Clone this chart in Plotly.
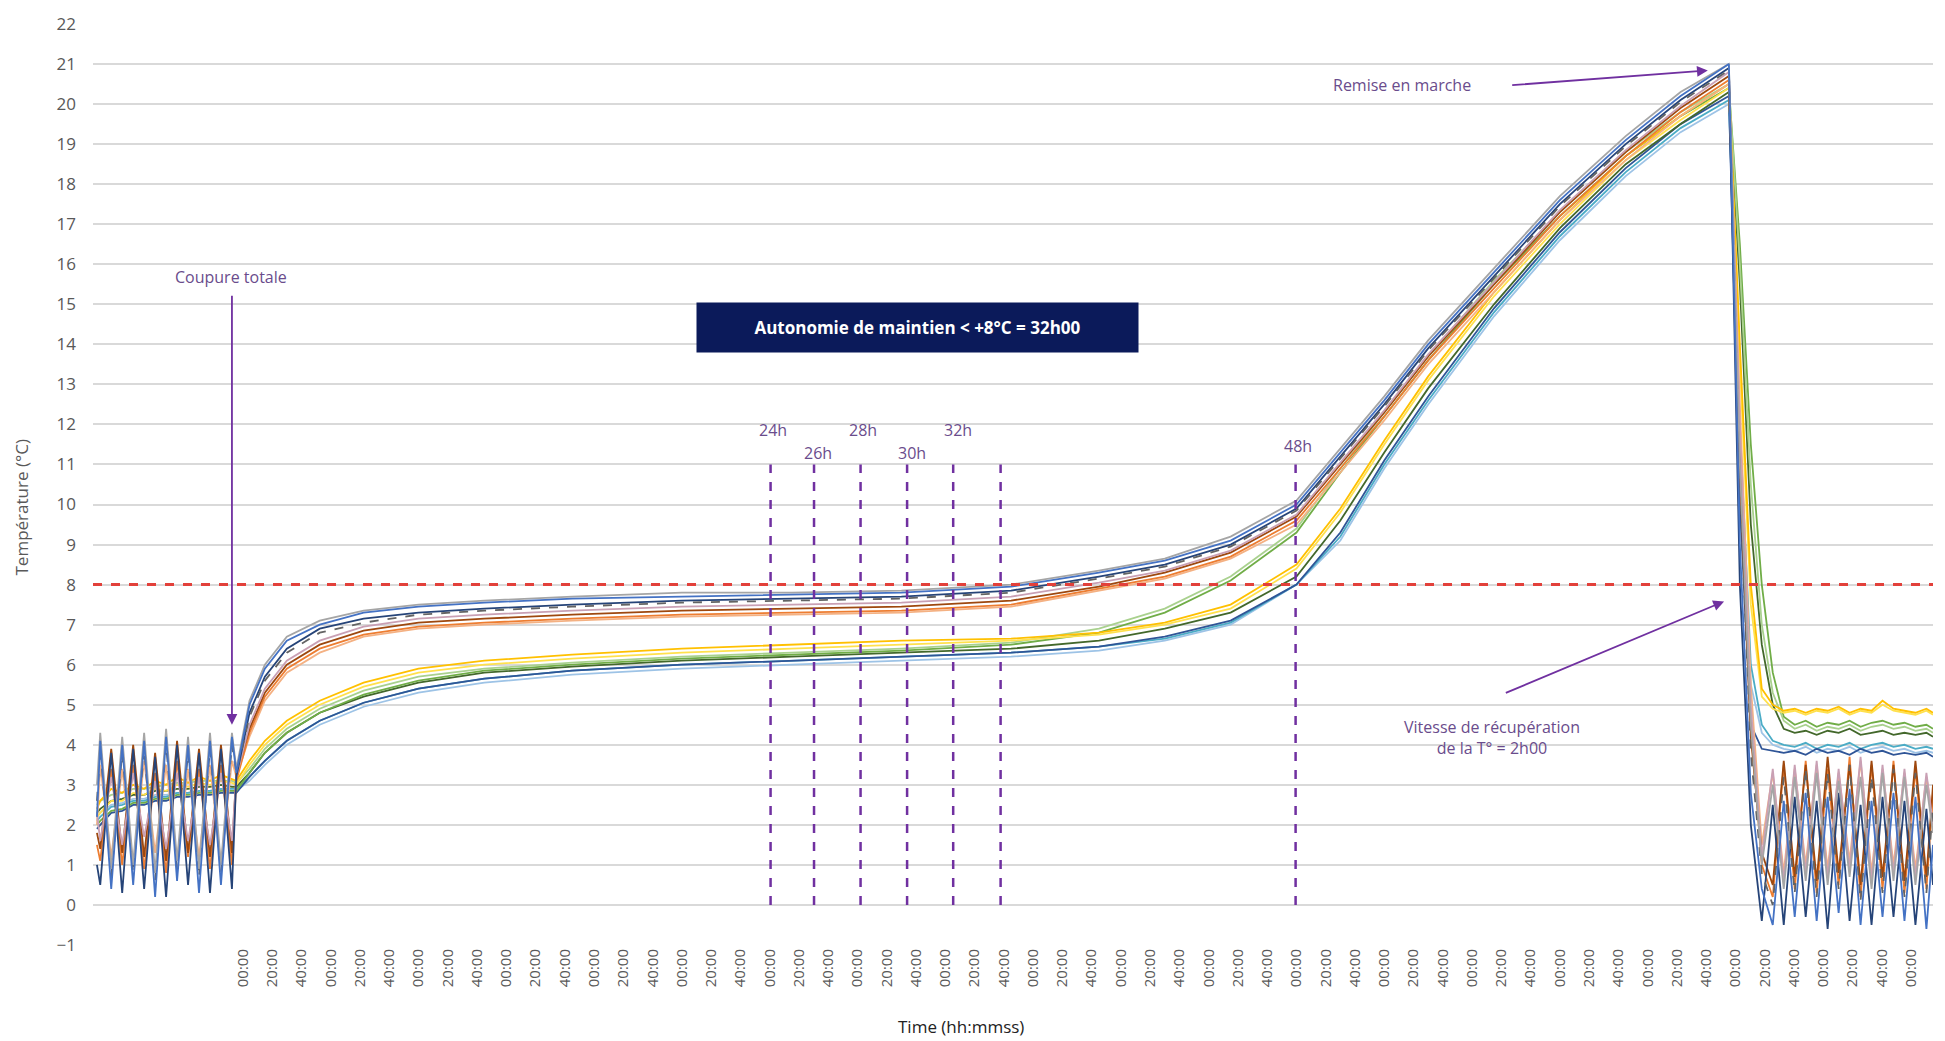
import plotly.graph_objects as go

# ---------------- time grids (hours, 0 = label "00:00" at cut) ----------------
T_PRE = [-6.65, -6.5, -6.0, -5.5, -5.0, -4.5, -4.0, -3.5, -3.0, -2.5, -2.0, -1.5, -1.0, -0.5, -0.3]
T_MID = [0.3, 1.0, 2.0, 3.5, 5.5, 8.0, 11.0, 15.0, 20.0, 25.0, 30.0, 35.0, 39.0, 42.0, 45.0,
         48.0, 50.0, 52.0, 54.0, 57.0, 60.0, 63.0, 65.5, 67.7]
T_POST = [68.2, 68.7, 69.2, 69.7, 70.2, 70.7, 71.2, 71.7, 72.2, 72.7, 73.2, 73.7, 74.2, 74.7,
          75.2, 75.7, 76.2, 76.7, 77.0]
TIME = T_PRE + T_MID + T_POST

# ---------------- sensor series (°C) ----------------
# upper group
A1 = ([2.2, 4.1, 0.4, 4.0, 0.5, 4.1, 0.2, 4.2, 0.6, 4.0, 0.3, 4.1, 0.5, 4.2, 3.3]
      + [5.0, 5.9, 6.6, 7.0, 7.3, 7.45, 7.55, 7.65, 7.7, 7.75, 7.8, 7.95, 8.3, 8.6, 9.1, 10.0, 11.3, 12.6, 14.0, 15.8, 17.6, 19.1, 20.2, 21.0]
      + [9.0, 2.8, 0.4, -0.5, 2.6, -0.3, 2.8, -0.4, 2.7, -0.2, 2.9, -0.5, 2.6, -0.3, 2.8, -0.4, 2.7, -0.6, 1.5])
A2 = ([1.0, 0.5, 3.8, 0.3, 3.9, 0.4, 3.7, 0.2, 4.0, 0.5, 3.8, 0.3, 3.9, 0.4, 3.2]
      + [4.8, 5.7, 6.4, 6.9, 7.15, 7.3, 7.4, 7.5, 7.6, 7.65, 7.7, 7.85, 8.2, 8.5, 9.0, 9.9, 11.2, 12.5, 13.9, 15.7, 17.5, 19.0, 20.1, 20.9]
      + [8.0, 2.0, -0.4, 2.5, -0.5, 2.7, -0.3, 2.6, -0.6, 2.8, -0.4, 2.5, -0.5, 2.7, -0.3, 2.6, -0.5, 2.4, 0.5])
A3 = ([1.5, 1.1, 3.4, 1.0, 3.5, 0.9, 3.3, 0.8, 3.6, 1.2, 3.4, 0.9, 3.5, 1.0, 3.1]
      + [4.3, 5.2, 5.9, 6.4, 6.75, 6.95, 7.05, 7.15, 7.25, 7.3, 7.35, 7.5, 7.9, 8.2, 8.7, 9.6, 10.9, 12.2, 13.6, 15.4, 17.2, 18.7, 19.8, 20.6]
      + [11.5, 4.5, 1.0, 0.2, 3.5, 0.4, 3.6, 0.3, 3.4, 0.5, 3.7, 0.2, 3.5, 0.4, 3.6, 0.3, 3.4, 0.4, 2.8])
A4 = ([2.0, 3.5, 1.2, 3.4, 1.0, 3.6, 1.3, 3.5, 1.1, 3.4, 1.2, 3.5, 1.0, 3.6, 3.2]
      + [4.2, 5.1, 5.8, 6.3, 6.7, 6.9, 7.0, 7.1, 7.2, 7.25, 7.3, 7.45, 7.85, 8.15, 8.65, 9.5, 10.8, 12.1, 13.5, 15.3, 17.1, 18.6, 19.7, 20.5]
      + [12.5, 5.5, 1.5, 3.3, 0.8, 3.4, 1.0, 3.5, 0.9, 3.3, 1.1, 3.6, 0.8, 3.4, 1.0, 3.3, 0.9, 3.2, 2.2])
A5 = ([1.8, 1.4, 3.9, 1.3, 4.0, 1.2, 3.8, 1.1, 4.1, 1.3, 3.9, 1.2, 4.0, 1.3, 3.3]
      + [4.4, 5.3, 6.0, 6.5, 6.85, 7.05, 7.15, 7.25, 7.35, 7.4, 7.45, 7.6, 7.95, 8.3, 8.8, 9.7, 11.0, 12.3, 13.7, 15.5, 17.3, 18.8, 19.9, 20.7]
      + [10.8, 4.2, 1.3, 0.5, 3.6, 0.7, 3.5, 0.6, 3.7, 0.8, 3.5, 0.5, 3.6, 0.7, 3.5, 0.6, 3.6, 0.7, 3.0])
A6 = ([3.0, 4.3, 0.9, 4.2, 1.0, 4.3, 0.8, 4.4, 1.1, 4.2, 0.9, 4.3, 1.0, 4.3, 3.4]
      + [5.1, 6.0, 6.7, 7.1, 7.35, 7.5, 7.6, 7.7, 7.8, 7.8, 7.85, 8.0, 8.35, 8.65, 9.2, 10.1, 11.4, 12.7, 14.1, 15.9, 17.7, 19.2, 20.3, 21.0]
      + [11.0, 4.5, 1.0, 3.0, 0.4, 3.2, 0.6, 3.3, 0.5, 3.1, 0.7, 3.2, 0.4, 3.3, 0.6, 3.2, 0.5, 3.0, 1.8])
A7 = ([2.6, 3.9, 0.7, 3.8, 0.8, 3.9, 0.6, 4.0, 0.9, 3.8, 0.7, 3.9, 0.8, 4.0, 3.3]
      + [4.7, 5.6, 6.3, 6.8, 7.05, 7.25, 7.35, 7.45, 7.55, 7.6, 7.65, 7.8, 8.15, 8.45, 8.95, 9.85, 11.15, 12.45, 13.85, 15.65, 17.45, 18.95, 20.05, 20.85]
      + [10.5, 3.8, 0.8, 0.0, 3.2, 0.3, 3.4, 0.2, 3.3, 0.4, 3.5, 0.1, 3.2, 0.3, 3.4, 0.2, 3.3, 0.3, 2.5])
A8 = ([2.3, 1.6, 3.2, 1.5, 3.3, 1.7, 3.1, 1.4, 3.3, 1.6, 3.2, 1.5, 3.3, 1.6, 3.2]
      + [4.5, 5.4, 6.1, 6.6, 6.95, 7.15, 7.25, 7.35, 7.45, 7.5, 7.55, 7.7, 8.05, 8.35, 8.85, 9.75, 11.05, 12.35, 13.75, 15.55, 17.35, 18.85, 19.95, 20.8]
      + [12.0, 5.0, 1.2, 3.4, 0.6, 3.5, 0.8, 3.6, 0.7, 3.4, 0.9, 3.7, 0.6, 3.5, 0.8, 3.4, 0.7, 3.3, 2.0])
# lower group
B1 = ([2.4, 2.6, 2.9, 2.8, 3.0, 2.9, 3.1, 3.0, 3.2, 3.05, 3.2, 3.1, 3.25, 3.15, 3.1]
      + [3.6, 4.1, 4.6, 5.1, 5.55, 5.9, 6.1, 6.25, 6.4, 6.5, 6.6, 6.65, 6.8, 7.05, 7.5, 8.5, 9.9, 11.6, 13.2, 15.3, 17.1, 18.7, 19.7, 20.5]
      + [14.0, 8.0, 5.4, 5.0, 4.85, 4.9, 4.8, 4.9, 4.85, 4.95, 4.8, 4.9, 4.85, 5.1, 4.9, 4.85, 4.8, 4.9, 4.8])
B2 = ([2.2, 2.3, 2.6, 2.6, 2.8, 2.75, 2.9, 2.85, 3.0, 2.95, 3.05, 3.0, 3.1, 3.05, 3.0]
      + [3.5, 4.0, 4.5, 5.0, 5.45, 5.8, 6.0, 6.15, 6.3, 6.4, 6.5, 6.6, 6.75, 7.0, 7.4, 8.4, 9.8, 11.5, 13.1, 15.2, 17.0, 18.6, 19.6, 20.4]
      + [13.5, 7.5, 5.2, 4.9, 4.8, 4.85, 4.75, 4.85, 4.8, 4.9, 4.75, 4.85, 4.8, 5.0, 4.85, 4.8, 4.75, 4.85, 4.75])
B3 = ([2.0, 2.1, 2.35, 2.4, 2.55, 2.55, 2.65, 2.65, 2.75, 2.75, 2.8, 2.8, 2.85, 2.85, 2.85]
      + [3.3, 3.8, 4.3, 4.8, 5.25, 5.6, 5.85, 6.0, 6.15, 6.25, 6.35, 6.5, 6.8, 7.3, 8.1, 9.3, 10.8, 12.2, 13.6, 15.5, 17.2, 18.7, 19.7, 20.4]
      + [16.5, 11.5, 8.0, 5.8, 4.7, 4.5, 4.6, 4.45, 4.55, 4.5, 4.6, 4.45, 4.55, 4.6, 4.5, 4.55, 4.45, 4.5, 4.4])
B4 = ([2.3, 2.4, 2.6, 2.65, 2.75, 2.75, 2.85, 2.85, 2.9, 2.9, 2.95, 2.95, 3.0, 2.95, 2.95]
      + [3.3, 3.8, 4.3, 4.8, 5.2, 5.55, 5.8, 5.95, 6.1, 6.2, 6.3, 6.4, 6.6, 6.9, 7.3, 8.2, 9.6, 11.3, 12.9, 15.0, 16.9, 18.5, 19.5, 20.3]
      + [15.5, 9.5, 6.5, 5.0, 4.4, 4.3, 4.35, 4.25, 4.35, 4.3, 4.4, 4.25, 4.3, 4.35, 4.25, 4.3, 4.25, 4.3, 4.2])
B5 = ([2.1, 2.2, 2.45, 2.5, 2.6, 2.6, 2.7, 2.7, 2.8, 2.8, 2.85, 2.85, 2.9, 2.9, 2.9]
      + [3.2, 3.6, 4.1, 4.6, 5.05, 5.4, 5.65, 5.85, 6.0, 6.1, 6.2, 6.3, 6.45, 6.65, 7.05, 8.0, 9.2, 11.0, 12.6, 14.8, 16.7, 18.3, 19.4, 20.1]
      + [12.0, 6.0, 4.5, 4.1, 4.0, 3.95, 4.05, 3.9, 4.0, 3.95, 4.05, 3.9, 4.0, 4.05, 3.95, 4.0, 3.9, 3.95, 3.9])
B6 = ([2.2, 2.3, 2.5, 2.55, 2.65, 2.65, 2.75, 2.75, 2.8, 2.8, 2.85, 2.85, 2.9, 2.85, 2.85]
      + [3.1, 3.5, 4.0, 4.5, 4.95, 5.3, 5.55, 5.75, 5.9, 6.0, 6.1, 6.2, 6.35, 6.6, 7.0, 8.0, 9.1, 10.9, 12.5, 14.7, 16.6, 18.2, 19.3, 20.0]
      + [11.5, 5.5, 4.3, 4.0, 3.9, 3.85, 3.95, 3.8, 3.9, 3.85, 3.95, 3.8, 3.9, 3.95, 3.85, 3.9, 3.8, 3.85, 3.8])
B7 = ([1.9, 2.0, 2.3, 2.35, 2.5, 2.5, 2.6, 2.6, 2.7, 2.7, 2.75, 2.75, 2.8, 2.8, 2.8]
      + [3.2, 3.6, 4.1, 4.6, 5.05, 5.4, 5.65, 5.85, 6.0, 6.1, 6.2, 6.3, 6.45, 6.7, 7.1, 8.0, 9.3, 11.1, 12.7, 14.9, 16.8, 18.4, 19.5, 20.2]
      + [10.0, 4.5, 3.9, 3.85, 3.8, 3.85, 3.75, 3.9, 3.8, 3.85, 3.75, 3.9, 3.8, 3.85, 3.75, 3.8, 3.75, 3.8, 3.7])
B8 = ([2.5, 2.6, 2.75, 2.8, 2.9, 2.9, 2.95, 3.0, 3.05, 3.05, 3.1, 3.1, 3.1, 3.1, 3.05]
      + [3.4, 3.9, 4.4, 4.9, 5.35, 5.7, 5.9, 6.05, 6.2, 6.3, 6.4, 6.55, 6.9, 7.4, 8.2, 9.4, 10.9, 12.3, 13.7, 15.6, 17.3, 18.8, 19.8, 20.5]
      + [16.0, 10.5, 7.0, 5.3, 4.6, 4.4, 4.5, 4.35, 4.45, 4.4, 4.5, 4.35, 4.45, 4.5, 4.4, 4.45, 4.35, 4.4, 4.3])

SERIES = [
    ("B6", B6, "#9DC3E6", "solid"), ("B5", B5, "#4BACC6", "solid"), ("B7", B7, "#2F5597", "solid"),
    ("B4", B4, "#43682B", "solid"), ("B3", B3, "#70AD47", "solid"), ("B8", B8, "#A9D18E", "solid"),
    ("B2", B2, "#FFE14D", "solid"), ("B1", B1, "#FFC000", "solid"),
    ("A4", A4, "#F4B183", "solid"), ("A3", A3, "#ED7D31", "solid"), ("A5", A5, "#9E480E", "solid"),
    ("A8", A8, "#C9A0B4", "solid"), ("A2", A2, "#264478", "solid"), ("A7", A7, "#636363", "dash"),
    ("A6", A6, "#A5A5A5", "solid"), ("A1", A1, "#4472C4", "solid"),
]

# ---------------- axis labels & markers ----------------
TICK_VALS = [i * 4 / 3 for i in range(58)]
TICK_TEXT = [["00:00", "20:00", "40:00"][i % 3] for i in range(58)]
HOUR_LINES = [24.04, 26.02, 28.14, 30.26, 32.36, 34.52, 47.96]
HOUR_LABELS = [("24h", 24.15, 11.86), ("26h", 26.2, 11.29), ("28h", 28.25, 11.86),
               ("30h", 30.5, 11.29), ("32h", 32.57, 11.86), ("48h", 48.08, 11.45)]
LIMIT = 8

fig = go.Figure()
for name, vals, col, dash in SERIES:
    fig.add_trace(go.Scatter(x=TIME, y=vals, mode="lines", name=name,
                             line=dict(color=col, width=1.8, dash=dash), showlegend=False))

PURPLE = "#7030A0"
shapes = [dict(type="line", xref="paper", yref="y", x0=0, x1=1, y0=LIMIT, y1=LIMIT,
               line=dict(color="#E2403A", width=3, dash="dash"))]
for h in HOUR_LINES:
    shapes.append(dict(type="line", xref="x", yref="y", x0=h, x1=h, y0=0, y1=11,
                       line=dict(color=PURPLE, width=2.5, dash="dash")))

ann = []
for txt, x, y in HOUR_LABELS:
    ann.append(dict(x=x, y=y, xref="x", yref="y", text=txt, showarrow=False,
                    font=dict(size=16, color="#6A4C8C")))
ann.append(dict(x=-0.55, y=15.68, xref="x", yref="y", text="Coupure totale", showarrow=False,
                font=dict(size=16, color="#6A4C8C")))
ann.append(dict(x=-0.5, y=4.5, ax=-0.5, ay=15.25, xref="x", yref="y", axref="x", ayref="y",
                text="", showarrow=True, arrowhead=2, arrowsize=1.2, arrowwidth=1.8, arrowcolor=PURPLE))
ann.append(dict(x=52.79, y=20.47, xref="x", yref="y", text="Remise en marche", showarrow=False,
                font=dict(size=16, color="#6A4C8C")))
ann.append(dict(x=66.74, y=20.84, ax=57.76, ay=20.47, xref="x", yref="y", axref="x", ayref="y",
                text="", showarrow=True, arrowhead=2, arrowsize=1.2, arrowwidth=1.8, arrowcolor=PURPLE))
ann.append(dict(x=56.9, y=4.17, xref="x", yref="y",
                text="Vitesse de récupération<br>de la T° = 2h00", showarrow=False,
                font=dict(size=16, color="#6A4C8C")))
ann.append(dict(x=67.48, y=7.58, ax=57.47, ay=5.28, xref="x", yref="y", axref="x", ayref="y",
                text="", showarrow=True, arrowhead=2, arrowsize=1.2, arrowwidth=1.8, arrowcolor=PURPLE))
ann.append(dict(x=30.75, y=14.41, xref="x", yref="y",
                text="<b>Autonomie de maintien < +8°C = 32h00</b>", showarrow=False,
                font=dict(size=17, color="white"), bgcolor="#0B1A5A", width=437, height=45,
                borderpad=2))
ann.append(dict(x=-0.0386, y=0.475, xref="paper", yref="paper", text="Température (°C)",
                xanchor="center", yanchor="middle",
                textangle=-90, showarrow=False, font=dict(size=17, color="#595959")))
ann.append(dict(x=0.472, y=-0.088, xref="paper", yref="paper", text="Time (hh:mmss)",
                xanchor="center", yanchor="middle",
                showarrow=False, font=dict(size=17, color="#222222")))

fig.update_layout(
    width=1945, height=1041,
    margin=dict(l=93, r=12, t=15, b=96),
    paper_bgcolor="white", plot_bgcolor="white",
    font=dict(family="Open Sans, sans-serif", color="#595959"),
    shapes=shapes, annotations=ann, showlegend=False,
    xaxis=dict(range=[-6.83, 77.0], tickmode="array", tickvals=TICK_VALS, ticktext=TICK_TEXT,
               tickangle=-90, tickfont=dict(size=15, color="#595959"), showgrid=False,
               zeroline=False, showline=False, ticks=""),
    yaxis=dict(range=[-1, 22], dtick=1, tick0=0, showgrid=True, gridcolor="#D9D9D9", gridwidth=1.5,
               zeroline=False, tickfont=dict(size=17, color="#595959"), ticks="",
               ticklabelstandoff=16),
)
fig.write_html("out.html", config={"displayModeBar": False},
               post_script="document.body.style.margin='0px';document.body.style.overflow='hidden';")
